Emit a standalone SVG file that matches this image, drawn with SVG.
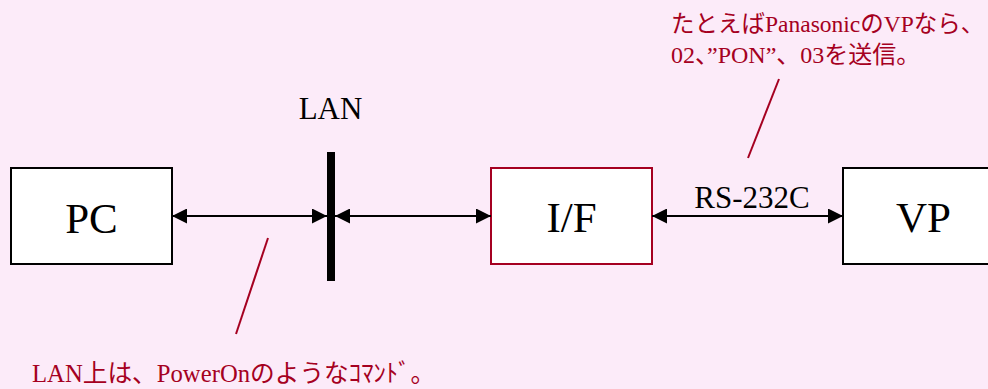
<svg xmlns="http://www.w3.org/2000/svg" width="988" height="389" viewBox="0 0 988 389">
<style>
.box{fill:#fff;stroke:#000;stroke-width:2}
.rbox{fill:#fff;stroke:#A50021;stroke-width:2}
.big{font-family:"Liberation Serif",serif;font-size:43px;fill:#000;text-anchor:middle}
.lbl{font-family:"Liberation Serif",serif;font-size:31px;fill:#000;text-anchor:middle}
.note{font-family:"Liberation Serif","Noto Sans CJK JP",sans-serif;font-size:24px;fill:#A50021}
.conn{stroke:#000;stroke-width:2;fill:none;marker-start:url(#ah);marker-end:url(#ah)}
.lead{stroke:#A50021;stroke-width:2;fill:none}
</style>
<defs>
<marker id="ah" markerUnits="userSpaceOnUse" markerWidth="15" markerHeight="15" refX="15" refY="7.5" orient="auto-start-reverse" viewBox="0 0 15 15">
<path d="M0,0 L15,7.5 L0,15 z" fill="#000"/>
</marker>
</defs>
<rect width="988" height="389" fill="#FCEBF9"/>
<g id="pc"><rect class="box" x="11" y="168" width="161" height="96"/><text class="big" x="91.5" y="233">PC</text></g>
<g id="lan"><rect x="327" y="152" width="8" height="129" fill="#000"/><text class="lbl" x="330.5" y="119">LAN</text></g>
<g id="if"><rect class="rbox" x="491" y="168" width="161" height="96"/><text class="big" x="571.5" y="232">I/F</text></g>
<g id="vp"><rect class="box" x="843" y="168" width="161" height="96"/><text class="big" x="923.5" y="232">VP</text></g>
<g id="connectors">
<line class="conn" x1="172" y1="216" x2="327" y2="216"/>
<line class="conn" x1="335" y1="216" x2="491" y2="216"/>
<line class="conn" x1="652" y1="216" x2="843" y2="216"/>
<text class="lbl" x="752" y="208">RS-232C</text>
</g>
<g id="note-vp">
<line class="lead" x1="779" y1="79" x2="748" y2="158"/>
<text class="note" x="671" y="32" style="font-size:23.5px">たとえばPanasonicのVPなら、</text>
<text class="note" x="671" y="63">02、”PON”、03を送信。</text>
</g>
<g id="note-lan">
<line class="lead" x1="268" y1="238" x2="236" y2="334"/>
<text class="note" x="32" y="382" style="font-size:24.7px">LAN上は、PowerOnのようなｺﾏﾝﾄﾞ。</text>
</g>
</svg>
